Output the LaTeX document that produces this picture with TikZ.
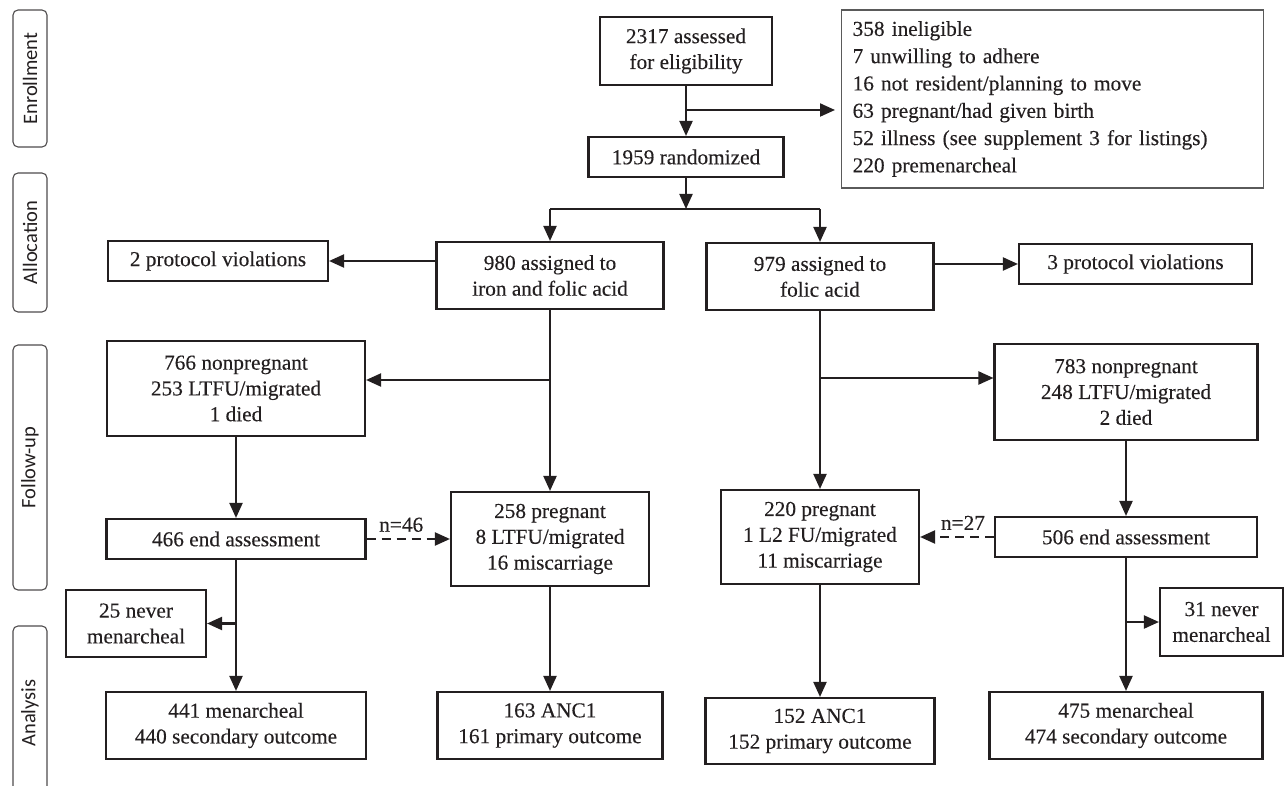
\documentclass[tikz,border=0pt]{standalone}
\usepackage{fontspec}
\setmainfont{Liberation Serif}[FakeBold=0.25]
\newfontfamily\labfont{Carlito}
\usetikzlibrary{arrows.meta}
\definecolor{ink}{HTML}{231F20}
\definecolor{exgray}{HTML}{5A5A5A}
\begin{document}
\begin{tikzpicture}[x=1pt,y=-1pt,
  box/.style={draw=ink, line width=2.1pt, text=ink, align=center, inner sep=0pt,
    font=\fontsize{21.3}{25.8}\selectfont},
  arr/.style={draw=ink, line width=2.1pt, -{Triangle[length=15pt,width=13pt]}},
  ln/.style={draw=ink, line width=2.1pt},
  dsh/.style={arr, dash pattern=on 9pt off 6pt},
  nlab/.style={text=ink, inner sep=0pt, font=\fontsize{21.3}{25.8}\selectfont},
  lab/.style={draw=ink!80, line width=1.1pt, rounded corners=5pt, rotate=90, inner sep=0pt,
    minimum height=34pt, text=ink, font=\labfont\fontsize{20.5}{24}\selectfont},
]
\useasboundingbox (0,0) rectangle (1286,786);

% phase labels
\node[lab, minimum width=137pt] (en) at (30,78.5) {Enrollment};
\node[lab, minimum width=139pt] (al) at (30,242.5) {Allocation};
\node[lab, minimum width=245pt] (fu) at (30,467.5) {Follow-up};
\node[lab, minimum width=174pt] (an) at (30,713) {Analysis};

% enrollment
\node[box, minimum width=172pt, minimum height=68pt] (A) at (686,51) {2317 assessed\\for eligibility};
\node[box, minimum width=195pt, minimum height=40pt] (B) at (686,157) {1959 randomized};
\node[box, draw=exgray, line width=1.3pt, anchor=west, minimum width=422pt, minimum height=178pt,
  text width=400pt, align=left, font=\fontsize{21.3}{27.3}\selectfont] (E) at (841,99)
  {358 ineligible\\7 unwilling to adhere\\16 not resident/planning to move\\63 pregnant/had given birth\\52 illness (see supplement 3 for listings)\\220 premenarcheal};

% allocation
\node[box, minimum width=227pt, minimum height=67pt] (C1) at (550,275.5) {980 assigned to\\iron and folic acid};
\node[box, minimum width=227pt, minimum height=67pt] (C2) at (820,276.5) {979 assigned to\\folic acid};
\node[box, minimum width=220pt, minimum height=40pt] (P1) at (218,261) {2 protocol violations};
\node[box, minimum width=233pt, minimum height=40pt] (P2) at (1135.5,264) {3 protocol violations};

% follow-up
\node[box, minimum width=258pt, minimum height=95pt] (N1) at (236,388.5) {766 nonpregnant\\253 LTFU/migrated\\1 died};
\node[box, minimum width=263pt, minimum height=96pt] (N2) at (1126,392) {783 nonpregnant\\248 LTFU/migrated\\2 died};
\node[box, minimum width=259pt, minimum height=40pt] (L1) at (236,539) {466 end assessment};
\node[box, minimum width=198pt, minimum height=94pt] (G1) at (550,539) {258 pregnant\\8 LTFU/migrated\\16 miscarriage};
\node[box, minimum width=198pt, minimum height=94pt] (G2) at (820,537) {220 pregnant\\1 L2 FU/migrated\\11 miscarriage};
\node[box, minimum width=262pt, minimum height=40pt] (L2) at (1126,537) {506 end assessment};

% analysis
\node[box, minimum width=140pt, minimum height=67pt] (M1) at (136,623.5) {25 never\\menarcheal};
\node[box, minimum width=123pt, minimum height=68pt] (M2) at (1221.5,622) {31 never\\menarcheal};
\node[box, minimum width=260pt, minimum height=67pt] (A1) at (236,725.5) {441 menarcheal\\440 secondary outcome};
\node[box, minimum width=225pt, minimum height=67pt] (B1) at (550,725.5) {163 ANC1\\161 primary outcome};
\node[box, minimum width=229pt, minimum height=66pt] (B2) at (820,731) {152 ANC1\\152 primary outcome};
\node[box, minimum width=273pt, minimum height=67pt] (A2) at (1126,725.5) {475 menarcheal\\474 secondary outcome};

% coordinates
\coordinate (ex) at (686,110);
\coordinate (sp) at (686,209);
\coordinate (b1) at (550,380);
\coordinate (b2) at (820,378);

% connectors: enrollment
\draw[arr] (A.south) -- (B.north);
\draw[arr, shorten >=6pt] (ex) -- (E.west |- ex);
\draw[arr] (B.south) -- (sp);
\draw[ln] (C1.north |- sp) -- (C2.north |- sp);
\draw[arr] (C1.north |- sp) -- (C1.north);
\draw[arr] (C2.north |- sp) -- (C2.north);

% allocation side arrows
\draw[arr] (C1.west |- P1.east) -- (P1.east);
\draw[arr] (C2.east |- P2.west) -- (P2.west);

% follow-up
\draw[arr] (C1.south) -- (G1.north);
\draw[arr] (b1) -- (N1.east |- b1);
\draw[arr] (C2.south) -- (G2.north);
\draw[arr] (b2) -- (N2.west |- b2);
\draw[arr] (N1.south) -- (L1.north);
\draw[arr] (N2.south) -- (L2.north);
\draw[dsh] (L1.east) -- (G1.west |- L1.east)
  node[nlab, midway, above=6pt, xshift=-7pt] (n46) {n=46};
\draw[dsh] (L2.west) -- (G2.east |- L2.west)
  node[nlab, midway, above=6pt, xshift=6pt] (n27) {n=27};

% analysis
\draw[arr] (L1.south) -- (A1.north);
\draw[arr] (L1.south |- M1.east) -- (M1.east);
\draw[arr] (L2.south) -- (A2.north);
\draw[arr] (L2.south |- M2.west) -- (M2.west);
\draw[arr] (G1.south) -- (B1.north);
\draw[arr] (G2.south) -- (B2.north);
\end{tikzpicture}
\end{document}
